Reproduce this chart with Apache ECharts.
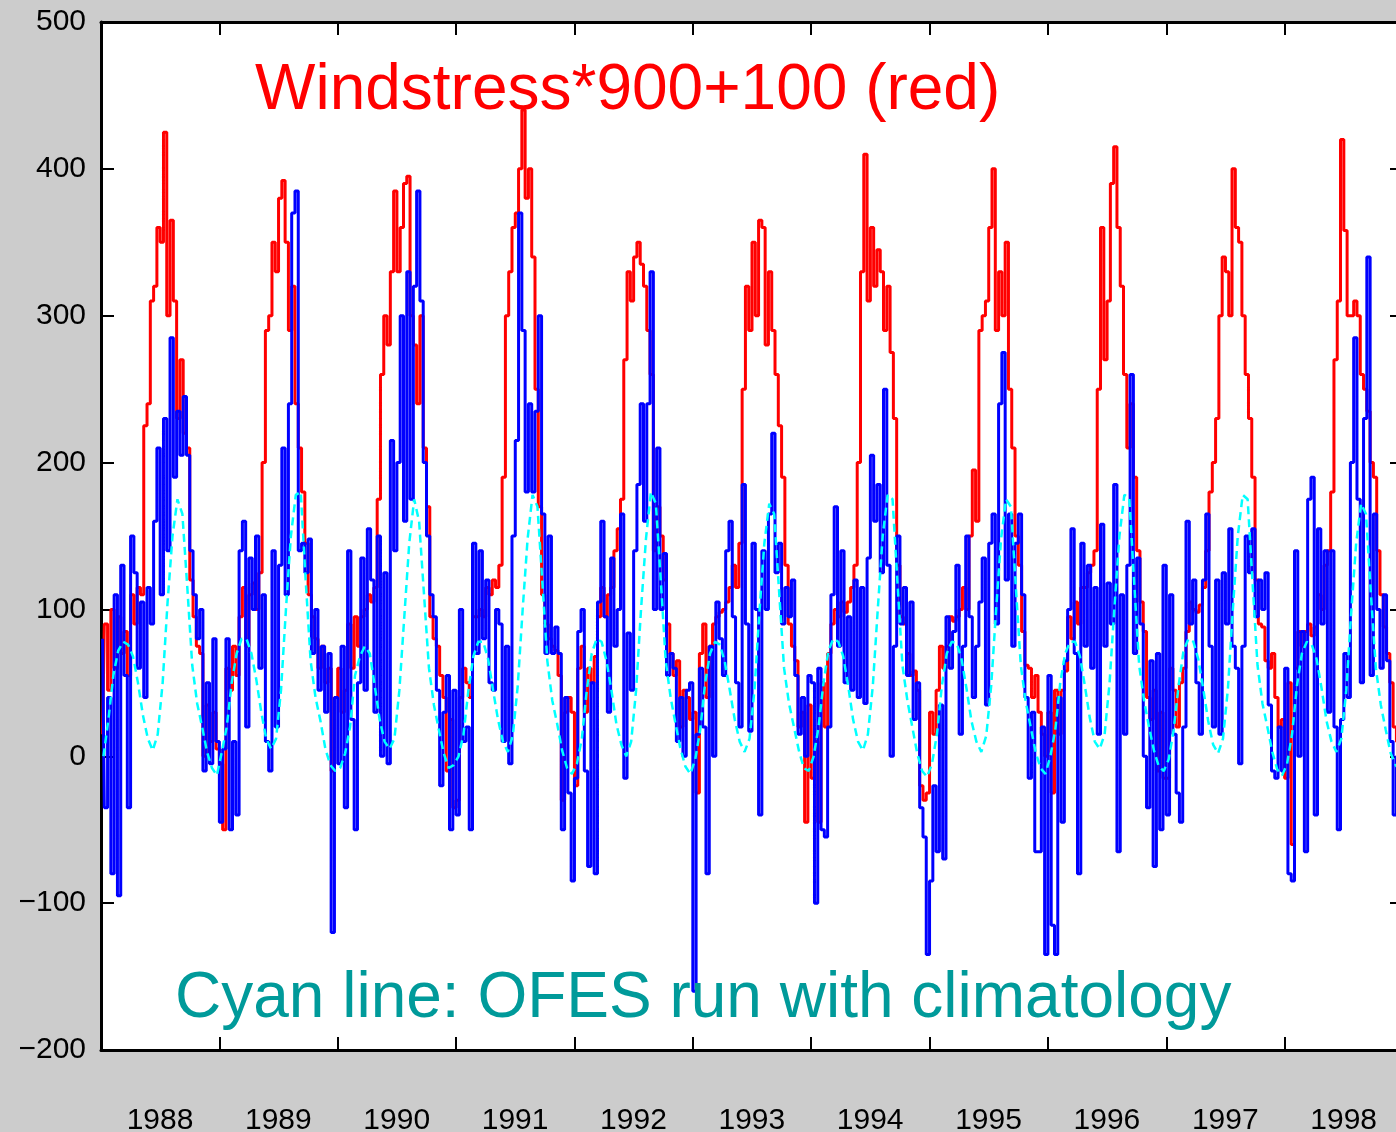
<!DOCTYPE html>
<html>
<head>
<meta charset="utf-8">
<script src="https://cdn.jsdelivr.net/npm/echarts@6.0.0/dist/echarts.min.js"></script>
<style>
html, body { margin: 0; padding: 0; background: #cccccc; }
#chart { width: 1396px; height: 1132px; }
</style>
</head>
<body>
<div id="chart"></div>
<script>
// ---------------- data ----------------
const startYear = 1988;
const endYear = 1999;
const yTickMin = -200;
const yTickMax = 500;
const yTickStep = 100;

const titleRed = 'Windstress*900+100 (red)';
const titleCyan = 'Cyan line: OFES run with climatology';

// red: windstress*900+100, 36 samples per year
const redSeries = [
  15, 90, 45, 100, 60, 95, 70, 85, 55, 110, 90, 115, 110, 225, 240, 310, 320, 360, 350, 425, 300, 365, 310, 230, 270, 220, 210, 120, 95, 75, 70, 0, 35, 10, 30, 5,
  -5, -50, 60, 45, 75, 55, 95, 115, 75, 110, 118, 100, 125, 200, 290, 300, 350, 330, 380, 392, 350, 290, 320, 240, 210, 180, 145, 110, 95, 80, 60, 75, 50, 60, -10, 40,
  60, 30, 45, 90, 60, 95, 75, 95, 100, 110, 105, 115, 175, 260, 300, 280, 330, 385, 330, 360, 390, 395, 300, 280, 240, 300, 210, 170, 95, 80, 75, 55, 40, -10, 25, -35,
  -30, 40, 60, 50, 40, 95, 95, 100, 95, 115, 110, 120, 115, 130, 190, 300, 330, 360, 370, 400, 440, 380, 400, 340, 250, 170, 110, 90, 80, 75, 72, 55, -30, 30, 40, 30,
  -20, 60, 75, 30, 60, 50, 68, 95, 115, 95, 110, 115, 140, 155, 175, 270, 330, 310, 340, 350, 335, 320, 290, 260, 140, 170, 150, 120, 90, 70, 55, 65, 20, 45, 40, 25,
  30, -25, 70, 90, 40, 75, 90, 95, 98, 100, 105, 115, 130, 115, 145, 250, 320, 290, 350, 300, 365, 360, 280, 330, 290, 260, 225, 190, 130, 90, 75, 65, 20, 30, -45, 35,
  -15, 10, -45, 50, 20, 70, 90, 100, 95, 105, 98, 105, 115, 130, 200, 330, 410, 310, 360, 320, 345, 330, 290, 320, 275, 230, 130, 95, 90, 70, 55, 58, 45, -20, -30, -25,
  30, 15, 45, 75, 60, 75, 95, 92, 95, 100, 115, 100, 150, 195, 160, 290, 300, 310, 360, 400, 290, 330, 300, 350, 250, 210, 150, 130, 85, 62, 60, 40, 55, 30, 15, 0,
  30, -25, 45, 15, 45, 58, 95, 80, 105, 90, 115, 115, 125, 130, 140, 250, 360, 270, 310, 390, 415, 360, 320, 260, 210, 240, 190, 140, 105, 85, 40, 25, 45, -10, 30, -15,
  -15, 60, 45, 20, 50, 60, 85, 105, 100, 98, 103, 115, 140, 180, 200, 230, 300, 340, 330, 300, 400, 360, 350, 300, 260, 230, 190, 120, 90, 88, 65, 60, 70, 40, 20, 25,
  -15, 50, -60, 60, 85, 75, 85, 90, 82, 88, 110, 100, 130, 140, 180, 270, 310, 420, 358, 300, 300, 310, 300, 260, 250, 235, 200, 190, 140, 110, 88, 70, 50, 20, 10
];

// blue: observed series, 36 samples per year
const blueSeries = [
  80, -35, 40, -80, 110, -95, 130, 55, -35, 150, 125, 60, 105, 40, 115, 90, 160, 210, 110, 230, 140, 285, 190, 235, 205, 245, 205, 140, 110, 80, 100, -10, 50, -5, 80, 10,
  -45, 5, 80, -50, 10, -40, 140, 160, 20, 135, 100, 150, 60, 110, 10, -10, 140, 20, 130, 210, 110, 240, 370, 385, 140, 145, 125, 148, 70, 100, 45, 75, 30, 70, -120, 40,
  -5, 75, -35, 140, 25, -50, 50, 135, 45, 155, 120, 30, 150, 0, 125, -5, 215, 140, 200, 300, 160, 330, 175, 320, 385, 310, 200, 150, 110, 95, 45, -20, 30, 55, -50, 45,
  -40, 100, 10, 20, -50, 145, 70, 140, 80, 120, 50, 45, 100, 90, 10, 75, -5, 150, 215, 370, 290, 180, 240, 180, 235, 300, 165, 70, 150, 70, 88, 70, -50, 40, -25, -85,
  -15, 85, 100, -10, -75, 50, -80, 105, 160, 95, 30, 135, 75, 100, 165, -15, 84, 45, 140, 185, 240, 160, 240, 330, 100, 210, 100, 138, 55, 70, 60, 10, 40, 0, 45, 50,
  -160, 15, 60, 20, -80, 75, 0, 105, 80, 55, 140, 160, 95, 50, 20, 185, 90, 17, 145, 100, -40, 140, 100, 165, 220, 125, 145, 90, 115, 95, 120, 55, 15, 40, 0, 55,
  50, -100, 60, -50, -55, 20, 110, 170, 75, 140, 50, 95, 45, 120, 40, 115, 36, 135, 205, 160, 185, 125, 250, 130, 0, 75, 150, 90, 115, 55, 105, 25, 50, -35, -55, -135,
  -85, -20, -65, 35, -70, 95, 60, 85, 130, 15, 75, 150, 95, 40, 75, 105, 135, 35, 145, 165, 90, 240, 275, 120, 165, 75, 145, 165, 110, 40, -15, 30, -65, -65, 20, -135,
  55, -115, -135, 40, -45, 65, 100, 155, 70, -80, 145, 75, 130, 60, 115, 15, 158, 75, 118, 90, 185, -65, 110, 15, 130, 260, 70, 135, 90, 0, -35, 65, -75, 70, -50, 130,
  -40, 110, 15, -25, -45, 20, 160, 90, 120, 50, 15, 120, 165, 75, 20, 120, 15, 125, 90, 155, 75, 60, -5, 75, 150, 125, 155, 95, 120, 100, 125, 35, -10, -15, 20, -10,
  60, -80, -85, 140, 0, 85, -65, 175, 190, -40, 155, 90, 140, 30, 140, 20, -50, 25, 70, 40, 200, 285, 175, 50, 230, 340, 55, 165, 100, 60, 110, 65, 10, -40, 0
];

// cyan: OFES run with climatology, 24 samples per year
const cyanSeries = [
  0, 25, 55, 72, 78, 76, 68, 50, 28, 12, 4, 15, 50, 105, 150, 175, 165, 115, 62, 36, 20, 3, -8, -13,
  3, 20, 50, 70, 80, 80, 70, 52, 30, 12, 5, 12, 45, 100, 150, 178, 180, 120, 65, 40, 24, 5, -6, -10,
  -8, 2, 20, 55, 68, 75, 70, 48, 25, 10, 5, 12, 45, 95, 145, 175, 160, 110, 60, 35, 18, 2, -8, -6,
  0, 15, 45, 68, 78, 78, 66, 45, 25, 10, 3, 14, 48, 100, 148, 178, 170, 118, 65, 38, 22, 4, -8, -12,
  -5, 12, 45, 70, 80, 78, 65, 45, 22, 8, 0, 10, 45, 100, 148, 180, 172, 120, 65, 40, 22, 5, -7, -12,
  -2, 18, 50, 70, 78, 76, 64, 45, 25, 10, 3, 12, 45, 98, 145, 172, 165, 112, 60, 36, 20, 4, -8, -10,
  0, 20, 50, 72, 80, 78, 68, 48, 25, 10, 4, 15, 48, 100, 150, 178, 175, 118, 62, 38, 20, 2, -10, -14,
  -5, 15, 48, 70, 78, 77, 66, 46, 24, 10, 3, 14, 48, 100, 148, 175, 170, 115, 62, 37, 20, 3, -8, -12,
  0, 18, 50, 70, 78, 78, 68, 48, 26, 10, 5, 15, 50, 102, 150, 178, 176, 118, 62, 38, 20, 4, -7, -10,
  -2, 18, 48, 72, 80, 78, 66, 46, 24, 8, 2, 12, 46, 100, 150, 178, 175, 118, 62, 36, 20, 3, -9, -13,
  -5, 15, 48, 70, 78, 76, 66, 46, 24, 10, 3, 12, 45, 98, 145, 172, 165, 110, 60, 35, 18, 2, -6, -10
];

const redPerYear = 36;
const bluePerYear = 36;
const cyanPerYear = 24;

// ---------------- chart ----------------
function toPairs(values, perYear) {
  return values.map((v, k) => [startYear + (k + 0.5) / perYear, v]);
}
const FONT = '"Liberation Sans", Arial, Helvetica, sans-serif';

function yearLabel(v) {
  const r = Math.round(v);
  return (Math.abs(v - r) < 1e-6 && r < endYear) ? String(r) : '';
}
function yLabel(v) {
  return v < 0 ? '\u2212' + Math.abs(v) : String(v);
}

const chart = echarts.init(document.getElementById('chart'), null, { renderer: 'canvas' });

const xCommon = {
  type: 'value', min: startYear, max: endYear, interval: 1,
  axisLine: { show: true, onZero: false, lineStyle: { color: '#000', width: 3 } },
  axisTick: { show: true, inside: true, length: 13, lineStyle: { color: '#000', width: 2 } },
  splitLine: { show: false }
};
const yCommon = {
  type: 'value', min: yTickMin, max: yTickMax, interval: yTickStep,
  axisLine: { show: true, onZero: false, lineStyle: { color: '#000', width: 3 } },
  axisTick: { show: true, inside: true, length: 13, lineStyle: { color: '#000', width: 2 } },
  splitLine: { show: false }
};

chart.setOption({
  animation: false,
  backgroundColor: '#cccccc',
  title: [
    { text: titleRed, left: 250, top: 54, padding: 5,
      textStyle: { color: '#ff0000', fontSize: 64, fontWeight: 'normal', fontFamily: FONT } },
    { text: titleCyan, left: 170, top: 962, padding: 5,
      textStyle: { color: '#009a9a', fontSize: 64, fontWeight: 'normal', fontFamily: FONT } }
  ],
  grid: { left: 101, top: 22, width: 1302, height: 1028, show: true, backgroundColor: '#ffffff',
          borderWidth: 0, containLabel: false, outerBoundsMode: 'none' },
  xAxis: [
    Object.assign({}, xCommon, { position: 'bottom',
      axisLabel: { show: true, formatter: yearLabel, color: '#000', fontSize: 30, fontFamily: FONT,
        margin: 56, align: 'center', padding: [0, 0, 0, 118] } }),
    Object.assign({}, xCommon, { position: 'top', axisLabel: { show: false } })
  ],
  yAxis: [
    Object.assign({}, yCommon, { position: 'left',
      axisLabel: { show: true, formatter: yLabel, color: '#000', fontSize: 30, fontFamily: FONT, margin: 15 } }),
    Object.assign({}, yCommon, { position: 'right', axisLabel: { show: false } })
  ],
  series: [
    { name: 'red', type: 'line', xAxisIndex: 0, yAxisIndex: 0, data: toPairs(redSeries, redPerYear),
      step: 'middle', showSymbol: false, symbol: 'none', silent: true, z: 2,
      lineStyle: { color: '#ff0000', width: 3 }, itemStyle: { color: '#ff0000' } },
    { name: 'blue', type: 'line', xAxisIndex: 0, yAxisIndex: 0, data: toPairs(blueSeries, bluePerYear),
      step: 'middle', showSymbol: false, symbol: 'none', silent: true, z: 3,
      lineStyle: { color: '#0000ff', width: 3 }, itemStyle: { color: '#0000ff' } },
    { name: 'cyan', type: 'line', xAxisIndex: 0, yAxisIndex: 0, data: toPairs(cyanSeries, cyanPerYear),
      showSymbol: false, symbol: 'none', silent: true, z: 4,
      lineStyle: { color: '#00ffff', width: 2.5, type: [8, 5] }, itemStyle: { color: '#00ffff' } }
  ]
});
</script>
</body>
</html>
